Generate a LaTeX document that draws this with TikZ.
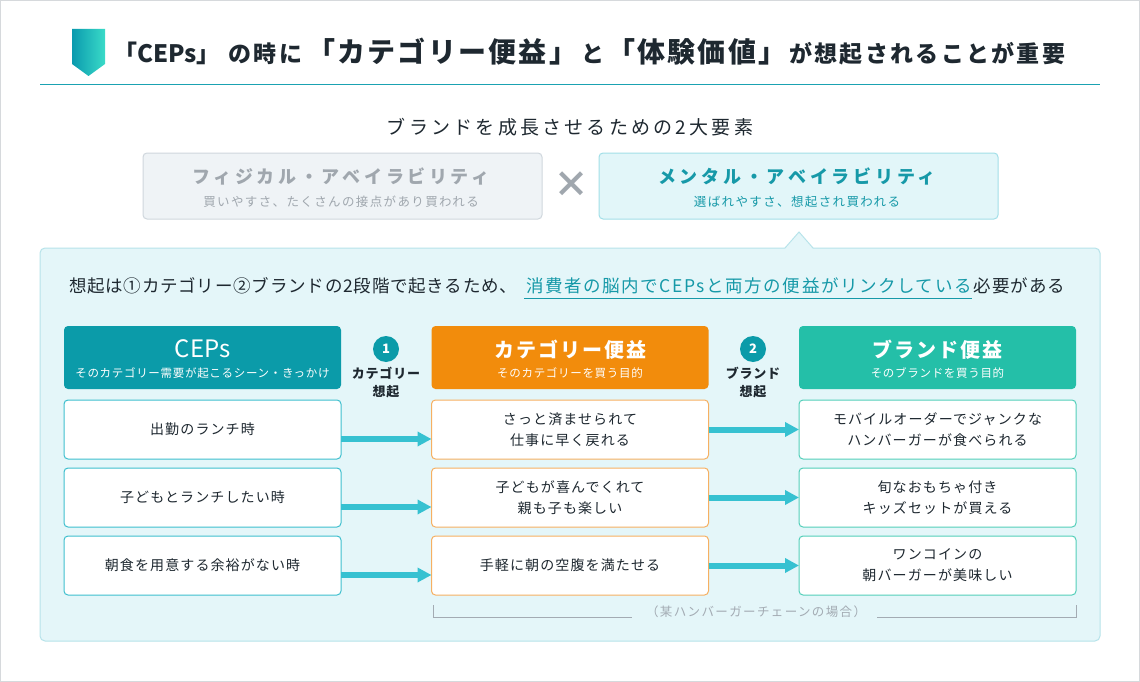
\documentclass[tikz,border=0pt]{standalone}
\usepackage{fontspec}
\setmainfont{Noto Sans CJK JP}
\usetikzlibrary{arrows.meta,calc}
\definecolor{dark}{HTML}{1E2830}
\definecolor{tealh}{HTML}{0B9BA9}
\definecolor{tealt}{HTML}{1699A8}
\definecolor{tline}{HTML}{1AA2B2}
\definecolor{orangeh}{HTML}{F28C0C}
\definecolor{greenh}{HTML}{24BFA8}
\definecolor{arrowc}{HTML}{36C1D1}
\definecolor{panelf}{HTML}{E4F6F9}
\definecolor{paneld}{HTML}{B6E3EA}
\definecolor{grayf}{HTML}{EFF3F6}
\definecolor{grayd}{HTML}{D0D7DD}
\definecolor{grayt}{HTML}{A0A7AE}
\definecolor{mentf}{HTML}{E2F6F9}
\definecolor{mentd}{HTML}{A2DFE8}
\definecolor{cepd}{HTML}{3EBFCE}
\definecolor{catd}{HTML}{F6B062}
\definecolor{brd}{HTML}{52CFB9}
\definecolor{notec}{HTML}{A3ABB3}
\definecolor{frame}{HTML}{D6D9DC}
\definecolor{icona}{HTML}{0A9AAE}
\definecolor{iconb}{HTML}{3ADBC8}
\newcommand\fsz[3]{\fontsize{#1}{#2}\selectfont\addfontfeature{LetterSpace=#3}}
\tikzset{
  every node/.style={inner sep=0pt, outer sep=0pt},
  hdr/.style={rectangle, rounded corners=4pt, minimum width=277pt, minimum height=63pt},
  hdrtitle/.style={text=white, font=\fsz{20}{24}{10}\bfseries},
  hdrsub/.style={text=white, font=\fsz{11.5}{14}{6}},
  rowbox/.style={rectangle, rounded corners=4pt, fill=white, minimum width=277pt, minimum height=59pt, align=center, font=\fsz{14}{21}{8}, text=dark, line width=1pt},
  cepbox/.style={rowbox, draw=cepd},
  catbox/.style={rowbox, draw=catd},
  brbox/.style={rowbox, draw=brd},
  flow/.style={line width=6pt, draw=arrowc, -{Triangle[length=14pt,width=14pt]}},
  numc/.style={circle, fill=tealh, minimum size=26pt, text=white, font=\fsz{13}{13}{0}\bfseries},
  numl/.style={align=center, text=dark, font=\fsz{13}{18}{6}\bfseries},
  avail/.style={rectangle, rounded corners=4pt, minimum width=399pt, minimum height=66pt, line width=1pt},
}
\begin{document}
\begin{tikzpicture}[x=1pt,y=-1pt]
\useasboundingbox (0,0) rectangle (1140,682);
\fill[white] (0,0) rectangle (1140,682);
\draw[frame, line width=1pt] (0.5,0.5) rectangle (1139.5,681.5);

% title icon
\shade[left color=icona, right color=iconb] (72,29) -- (105,29) -- (105,64) -- (88.5,76) -- (72,64) -- cycle;
\node[anchor=west, text=dark] (title) at (113,52) {%
{\fsz{24}{24}{0}\bfseries 「CEPs」}\hspace{8pt}{\fsz{23}{23}{10}\bfseries の時に}\hspace{5pt}{\fsz{28}{28}{8}\bfseries 「カテゴリー便益」}\hspace{4pt}{\fsz{23}{23}{10}\bfseries と}\hspace{3pt}{\fsz{28}{28}{8}\bfseries 「体験価値」}\hspace{3pt}{\fsz{23}{23}{10}\bfseries が想起されることが重要}};
\draw[tline, line width=1pt] (40,85) -- (1100,85);

% two elements
\node[text=dark, font=\fsz{19}{19}{17}] (sub) at (570,127) {ブランドを成長させるための2大要素};
\node[avail, fill=grayf, draw=grayd] (phys) at (342.5,186) {};
\node[text=grayt, font=\fsz{18}{18}{20}\bfseries] (physT) at (341,176) {フィジカル・アベイラビリティ};
\node[text=grayt, font=\fsz{12.5}{14}{11}] (physS) at (341,202) {買いやすさ、たくさんの接点があり買われる};
\node[text=grayt, font=\fsz{36}{36}{0}\bfseries] (times) at (571,185) {×};
\node[avail, fill=mentf, draw=mentd] (ment) at (798.5,186) {};
\node[text=tealt, font=\fsz{18}{18}{21}\bfseries] (mentT) at (797,176) {メンタル・アベイラビリティ};
\node[text=tealt, font=\fsz{12.5}{14}{11}] (mentS) at (797,202) {選ばれやすさ、想起され買われる};

% panel
\draw[paneld, fill=panelf, line width=1pt, rounded corners=5pt] (40,248) rectangle (1100,641);
\fill[panelf] (785,249) -- (799,232.5) -- (813,249) -- cycle;
\draw[paneld, line width=1pt] (785,248) -- (799,232) -- (813,248);

% statement
\node[anchor=base west, text=dark, font=\fsz{17.5}{17}{4.5}] (s1) at (69,292) {想起は①カテゴリー②ブランドの2段階で起きるため、};
\node[anchor=base west, text=tealt, font=\fsz{17.5}{17}{9}] (s2) at ([xshift=9pt]s1.base east) {消費者の脳内でCEPsと両方の便益がリンクしている};
\node[anchor=base west, text=dark, font=\fsz{17.5}{17}{6}] (s3) at ([xshift=2pt]s2.base east) {必要がある};
\draw[tealt, line width=1.2pt] ($(s2.base west)+(-2,6.5)$) -- ($(s2.base east)+(0,6.5)$);

% headers
\node[hdr, fill=tealh] (hc) at (202.5,357.5) {};
\node[text=white, font=\fsz{24}{24}{0}] (hcT) at (202.5,349) {CEPs};
\node[hdrsub] (hcS) at (202.5,373) {そのカテゴリー需要が起こるシーン・きっかけ};
\node[hdr, fill=orangeh] (hm) at (570,357.5) {};
\node[hdrtitle] (hmT) at (570,350) {カテゴリー便益};
\node[hdrsub] (hmS) at (570,373) {そのカテゴリーを買う目的};
\node[hdr, fill=greenh] (hb) at (937.5,357.5) {};
\node[hdrtitle] (hbT) at (937.5,350) {ブランド便益};
\node[hdrsub] (hbS) at (937.5,373) {そのブランドを買う目的};

\node[numc] (n1) at (386,349) {1};
\node[numl] (l1) at (386,383) {カテゴリー\\想起};
\node[numc] (n2) at (753,349) {2};
\node[numl] (l2) at (753,383) {ブランド\\想起};

% rows
\node[cepbox] (c1) at (202.5,429.5) {出勤のランチ時};
\node[cepbox] (c2) at (202.5,497.5) {子どもとランチしたい時};
\node[cepbox] (c3) at (202.5,565.5) {朝食を用意する余裕がない時};
\node[catbox] (m1) at (570,429.5) {さっと済ませられて\\仕事に早く戻れる};
\node[catbox] (m2) at (570,497.5) {子どもが喜んでくれて\\親も子も楽しい};
\node[catbox] (m3) at (570,565.5) {手軽に朝の空腹を満たせる};
\node[brbox] (b1) at (937.5,429.5) {モバイルオーダーでジャンクな\\ハンバーガーが食べられる};
\node[brbox] (b2) at (937.5,497.5) {旬なおもちゃ付き\\キッズセットが買える};
\node[brbox] (b3) at (937.5,565.5) {ワンコインの\\朝バーガーが美味しい};

\foreach \i in {1,2,3}{
  \draw[flow] ([yshift=-9.5pt]c\i.east) -- ([yshift=-9.5pt]m\i.west);
  \draw[flow] (m\i.east) -- (b\i.west);
}

% bracket note
\node[text=notec, font=\fsz{12.5}{14}{11}] (note) at (756,612) {（某ハンバーガーチェーンの場合）};
\draw[notec, line width=1pt] (433,605) -- (433,617) -- (632,617);
\draw[notec, line width=1pt] (877,617) -- (1076,617) -- (1076,605);
\end{tikzpicture}
\end{document}
